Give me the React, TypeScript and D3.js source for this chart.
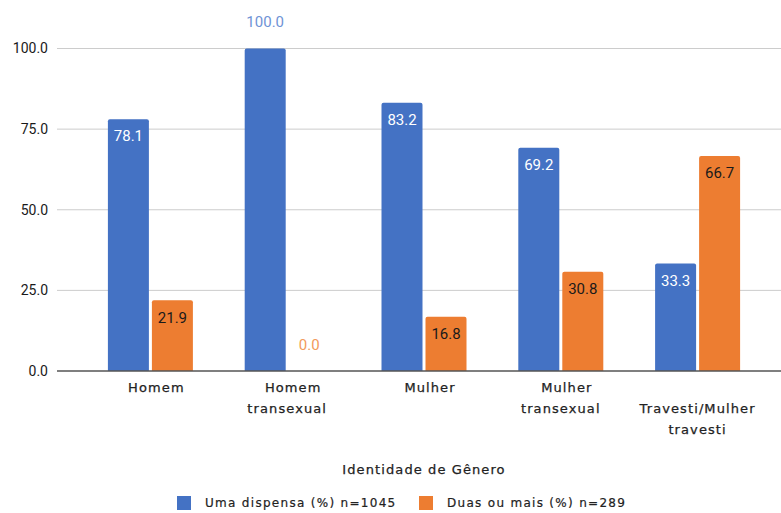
import React from "react";
import * as d3 from "d3";

const categories = ["Homem", "Homem transexual", "Mulher", "Mulher transexual", "Travesti/Mulher travesti"];
const categoryLines = [["Homem"], ["Homem", "transexual"], ["Mulher"], ["Mulher", "transexual"], ["", "Travesti/Mulher", "travesti"]];
const umaDispensa = [78.1, 100.0, 83.2, 69.2, 33.3];
const duasOuMais = [21.9, 0.0, 16.8, 30.8, 66.7];
const seriesNames = ["Uma dispensa (%) n=1045", "Duas ou mais (%) n=289"];
const yTicks = [0, 25, 50, 75, 100];
const axisTitle = "Identidade de Gênero";

const W = 781;
const H = 513;
const colors = ["#4472c4", "#ed7d31"];
const labelOutsideColors = ["#6f93d6", "#f29a5c"];
const labelInsideColors = ["#ffffff", "#1a1a1a"];
const catFont = { fontFamily: "DejaVu Sans", fontSize: 13, letterSpacing: 1.1, fill: "#222", stroke: "#222", strokeWidth: 0.25 };

export default function App() {
  const x = d3.scaleBand<string>().domain(categories).range([82, 766]).paddingInner(0).paddingOuter(0);
  const y = d3.scaleLinear().domain([0, 100]).range([371, 48.5]);
  const barW = 41;
  const gap = 3;
  const series = [umaDispensa, duasOuMais];

  return (
    <svg width={W} height={H} style={{ position: "absolute", left: 0, top: 0, background: "#fff" }}>
      <rect x={0} y={0} width={W} height={H} fill="#fff" />
      {yTicks.map((t) => (
        <g key={t}>
          {t !== 0 && <line x1={57} x2={781} y1={y(t)} y2={y(t)} stroke="#cccccc" strokeWidth={1} />}
          <text x={48} y={y(t)} dy="0.35em" textAnchor="end" fontFamily="Roboto" fontSize={14} fill="#1a1a1a">
            {t.toFixed(1)}
          </text>
        </g>
      ))}
      {categories.map((c, i) => {
        const cx = (x(c) as number) + x.bandwidth() / 2;
        return (
          <g key={c}>
            {series.map((s, si) => {
              const v = s[i];
              const bx = si === 0 ? cx - gap / 2 - barW : cx + gap / 2;
              const top = y(v);
              const h = y(0) - top;
              const inside = h > 30;
              return (
                <g key={si}>
                  {h > 0 && (
                    <path
                      d={`M${bx},${y(0)} V${top + 2} Q${bx},${top} ${bx + 2},${top} H${bx + barW - 2} Q${bx + barW},${top} ${bx + barW},${top + 2} V${y(0)} Z`}
                      fill={colors[si]}
                    />
                  )}
                  {v >= 99.9 ? (
                    <text x={bx + barW / 2} y={22} dy="0.35em" textAnchor="middle" fontFamily="Roboto" fontSize={15} fill={labelOutsideColors[si]}>
                      {v.toFixed(1)}
                    </text>
                  ) : inside ? (
                    <text x={bx + barW / 2} y={top + 17} dy="0.35em" textAnchor="middle" fontFamily="Roboto" fontSize={15} fill={labelInsideColors[si]}>
                      {v.toFixed(1)}
                    </text>
                  ) : (
                    <text x={bx + barW / 2} y={top - 26} dy="0.35em" textAnchor="middle" fontFamily="Roboto" fontSize={15} fill={labelOutsideColors[si]}>
                      {v.toFixed(1)}
                    </text>
                  )}
                </g>
              );
            })}
            {categoryLines[i].map((ln, li) => {
              const firstWordShift = li === 0 && ln.length > 0 ? 6 : 0;
              return (
                <text key={li} x={cx + firstWordShift} y={387.5 + li * 21} dy="0.35em" textAnchor="middle" {...catFont}>
                  {ln}
                </text>
              );
            })}
          </g>
        );
      })}
      <line x1={57} x2={781} y1={y(0)} y2={y(0)} stroke="#555" strokeWidth={1.3} />
      <text x={424} y={469.5} dy="0.35em" textAnchor="middle" {...catFont}>
        {axisTitle}
      </text>
      {seriesNames.map((n, i) => {
        const lx = i === 0 ? 177 : 419;
        return (
          <g key={n}>
            <rect x={lx} y={496} width={14} height={14} fill={colors[i]} />
            <text x={lx + 28} y={503} dy="0.35em" fontFamily="DejaVu Sans" fontSize={12} letterSpacing={1.3} fill="#222" stroke="#222" strokeWidth={0.2}>
              {n}
            </text>
          </g>
        );
      })}
    </svg>
  );
}
